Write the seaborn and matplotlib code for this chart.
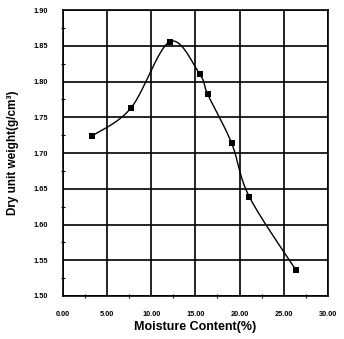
import numpy as np
import pandas as pd
import matplotlib
matplotlib.use("Agg")
import matplotlib.pyplot as plt
from matplotlib.ticker import MultipleLocator, FormatStrFormatter
import seaborn as sns

# Compaction test results
moisture = [3.3, 7.7, 12.1, 15.5, 16.4, 19.1, 21.1, 26.4]
dry_unit_weight = [1.724, 1.763, 1.856, 1.810, 1.782, 1.714, 1.639, 1.536]
x_ticks = [0, 5, 10, 15, 20, 25, 30]
y_ticks = [1.50, 1.55, 1.60, 1.65, 1.70, 1.75, 1.80, 1.85, 1.90]

sns.set_theme(style="white")
plt.rcParams["font.family"] = ["Liberation Sans", "DejaVu Sans"]
plt.rcParams.update({"text.color": "black", "axes.labelcolor": "black",
                     "xtick.color": "black", "ytick.color": "black"})


def smooth_curve(xs, ys, xspan, yspan, n=40):
    """Bezier smoothing through the points (Catmull-Rom style, like a spreadsheet smoothed line)."""
    p = np.column_stack([np.asarray(xs) / xspan, np.asarray(ys) / yspan])
    ext = np.vstack([p[0], p, p[-1]])
    out = []
    for i in range(len(p) - 1):
        p0, p1, p2, p3 = ext[i], ext[i + 1], ext[i + 2], ext[i + 3]
        c1 = p1 + (p2 - p0) / 6.0
        c2 = p2 - (p3 - p1) / 6.0
        t = np.linspace(0, 1, n)[:, None]
        seg = ((1 - t) ** 3) * p1 + 3 * ((1 - t) ** 2) * t * c1 + 3 * (1 - t) * t ** 2 * c2 + t ** 3 * p2
        out.append(seg if i == 0 else seg[1:])
    out = np.vstack(out)
    return out[:, 0] * xspan, out[:, 1] * yspan


sx, sy = smooth_curve(moisture, dry_unit_weight, 30.0, 0.4)
curve = pd.DataFrame({"x": sx, "y": sy})
points = pd.DataFrame({"moisture": moisture, "gamma_d": dry_unit_weight})

fig = plt.figure(figsize=(3.44, 3.39), dpi=100)
ax = fig.add_axes([0.183, 0.127, 0.770, 0.843])

sns.lineplot(data=curve, x="x", y="y", sort=False, estimator=None,
             color="black", linewidth=1.0, ax=ax)
sns.scatterplot(data=points, x="moisture", y="gamma_d", marker="s", s=22,
                color="black", edgecolor="black", linewidth=0, ax=ax, zorder=5)

ax.set_xlim(0, 30)
ax.set_ylim(1.50, 1.90)
ax.set_xticks(x_ticks)
ax.set_yticks(y_ticks)
ax.xaxis.set_major_formatter(FormatStrFormatter("%.2f"))
ax.yaxis.set_major_formatter(FormatStrFormatter("%.2f"))
ax.xaxis.set_minor_locator(MultipleLocator(2.5))
ax.yaxis.set_minor_locator(MultipleLocator(0.025))

ax.grid(True, which="major", color="black", linewidth=1.2)
for s in ax.spines.values():
    s.set_color("black")
    s.set_linewidth(1.2)

ax.tick_params(axis="both", which="major", direction="out", length=3, width=1,
               color="black", labelcolor="black", labelsize=5.3, pad=8)
ax.tick_params(axis="y", which="minor", direction="inout", length=3, width=0.8,
               color="black", left=True)
ax.tick_params(axis="x", which="minor", direction="inout", length=3, width=0.8,
               color="black", bottom=True)
for lab in ax.get_xticklabels() + ax.get_yticklabels():
    lab.set_fontweight("bold")

ax.set_xlabel("Moisture Content(%)", fontsize=9, fontweight="bold", labelpad=2,
              color="black")
ax.set_ylabel("Dry unit weight(g/cm\u00b3)", fontsize=8.5, fontweight="bold", labelpad=10,
              color="black")

fig.savefig("out.png", dpi=100, facecolor="white")
